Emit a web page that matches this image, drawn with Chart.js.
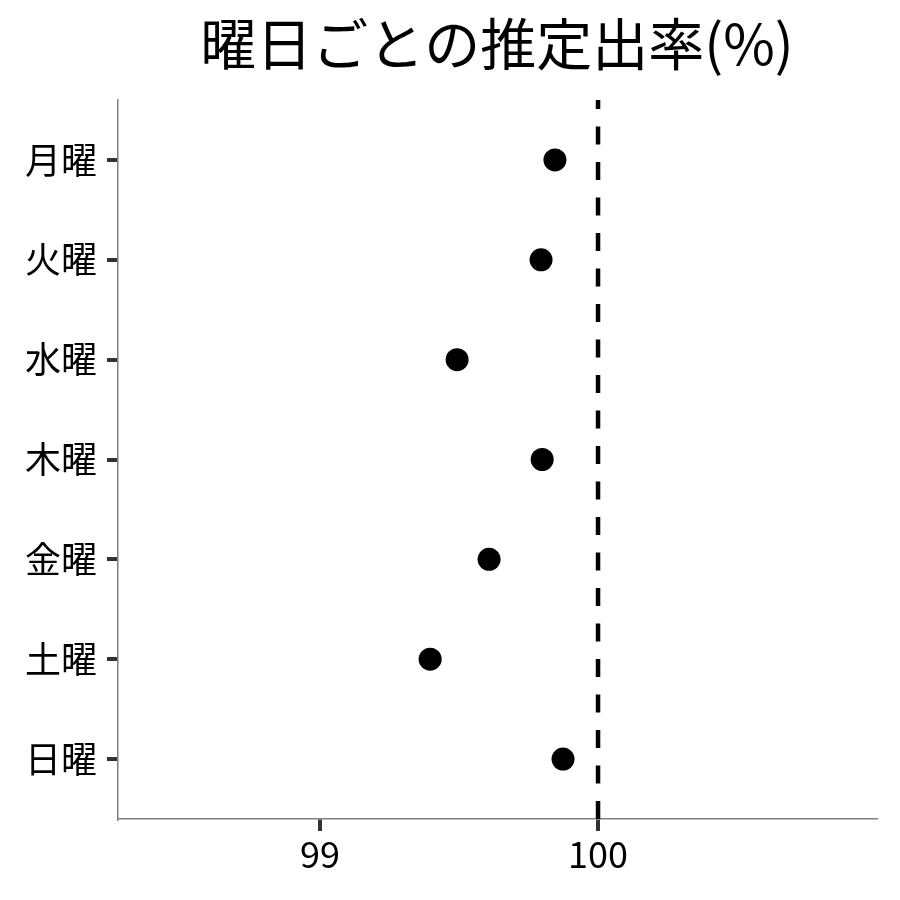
<!DOCTYPE html>
<html>
<head>
<meta charset="utf-8">
<script src="https://cdn.jsdelivr.net/npm/chart.js@4"></script>
<style>
  body { margin: 0; background: #fff; }
  #wrap { width: 900px; height: 900px; }
</style>
</head>
<body>
<div id="wrap"><canvas id="myChart"></canvas></div>
<script>
var titleText = "曜日ごとの推定出率(%)";
var days = ["月曜", "火曜", "水曜", "木曜", "金曜", "土曜", "日曜"];
var dayPos = [1, 2, 3, 4, 5, 6, 7];
var estimates = [99.845, 99.795, 99.493, 99.799, 99.608, 99.396, 99.874];
var xTicks = [99, 100];
var refValue = 100;

Chart.defaults.font.family = '"Noto Sans CJK JP", "Noto Sans", sans-serif';

var points = dayPos.map(function (p, i) { return { x: estimates[i], y: p }; });

// title centred over the panel, like ggplot
var panelTitle = {
    id: "panelTitle",
    afterDraw: function (chart) {
        var ctx = chart.ctx, a = chart.chartArea;
        ctx.save();
        ctx.font = '56px "Noto Sans CJK JP"';
        ctx.fillStyle = "#000";
        ctx.textAlign = "center";
        ctx.textBaseline = "middle";
        ctx.fillText(titleText, (a.left + a.right) / 2, 44);
        ctx.restore();
    }
};

new Chart("myChart", {
    type: "scatter",
    data: {
        datasets: [{
            data: points,
            backgroundColor: "#000",
            borderWidth: 0,
            pointRadius: 11.5
        }, {
            type: "line",
            data: [{ x: refValue, y: 7.6 }, { x: refValue, y: 0.4 }],
            borderColor: "#000",
            borderWidth: 4.5,
            borderDash: [18, 17.5],
            pointRadius: 0,
            fill: false
        }]
    },
    options: {
        responsive: true,
        maintainAspectRatio: false,
        animation: false,
        events: [],
        layout: { padding: { top: 100, right: 24, left: 0, bottom: 0 } },
        plugins: { legend: { display: false }, title: { display: false }, tooltip: { enabled: false } },
        scales: {
            x: {
                type: "linear",
                min: 98.273,
                max: 101.0,
                afterBuildTicks: function (s) { s.ticks = xTicks.map(function (v) { return { value: v }; }); },
                afterFit: function (s) { s.height = 81; },
                grid: { drawOnChartArea: false, tickLength: 12, tickColor: "#333", lineWidth: 4 },
                border: { color: "#7f7f7f", width: 1.5 },
                ticks: { color: "#000", font: { size: 36 }, padding: 2, maxRotation: 0 }
            },
            y: {
                type: "linear",
                reverse: true,
                min: 0.4,
                max: 7.6,
                afterBuildTicks: function (s) { s.ticks = dayPos.map(function (v) { return { value: v }; }); },
                afterFit: function (s) { s.width = 118; },
                grid: { drawOnChartArea: false, tickLength: 11, tickColor: "#333", lineWidth: 4 },
                border: { color: "#7f7f7f", width: 1.5 },
                ticks: {
                    color: "#000",
                    font: { size: 36 },
                    padding: 10,
                    callback: function (v) { return days[dayPos.indexOf(v)]; }
                }
            }
        }
    },
    plugins: [panelTitle]
});
</script>
</body>
</html>
